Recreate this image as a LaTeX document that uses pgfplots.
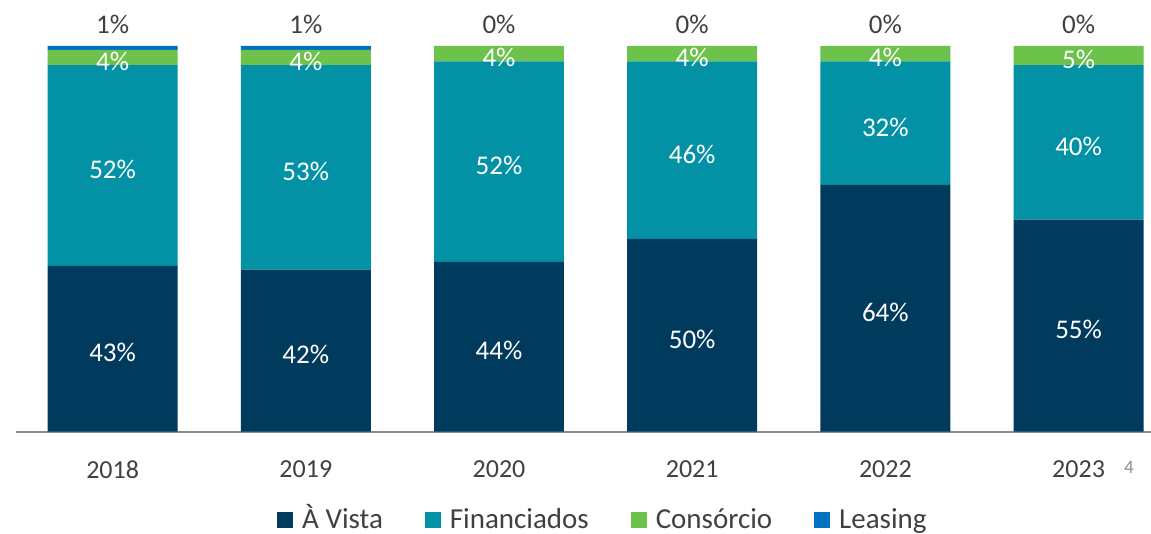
\documentclass[border=0pt]{standalone}
\usepackage{pgfplots}
\pgfplotsset{compat=1.18}
\usepackage{pgfplotstable}
\usepackage{fontspec}
\setmainfont{Carlito}

\definecolor{avista}{HTML}{003A5D}
\definecolor{fin}{HTML}{0391A6}
\definecolor{cons}{HTML}{6CC24A}
\definecolor{leas}{HTML}{0070C0}
\definecolor{axisgray}{HTML}{8C8C8C}
\definecolor{txtgray}{HTML}{404040}

% share of each payment type, per year (%)
\pgfplotstableread{
x avista fin cons leas
0 43 52 4 1
1 42 53 4 1
2 44 52 4 0
3 50 46 4 0
4 64 32 4 0
5 55 40 5 0
}\shares

\pgfplotsset{
  base/.style={x=96.65pt, y=1.93pt, xmin=-0.5, xmax=5.375, ymin=0, ymax=100, clip=false},
  lbl/.style={draw=none, mark=none, nodes near coords={\pgfplotspointmeta\%},
    point meta=explicit symbolic,
    every node near coord/.append style={anchor=center, text=#1}},
}

\begin{document}
\begin{tikzpicture}[font=\fontsize{13.5}{16}\selectfont]
\begin{axis}[base, ybar stacked, bar width=65pt,
  axis x line=bottom, axis y line=none,
  axis line style={-, draw=axisgray, line width=1pt},
  xtick={0,1,2,3,4,5},
  xticklabels={2018,2019,2020,2021,2022,2023},
  major tick length=0pt,
  xticklabel style={text=txtgray, yshift=-11pt, font=\fontsize{13}{15}\selectfont},
  legend columns=4,
  legend style={draw=none, fill=none, inner sep=0pt,
    at={(axis description cs:0.2298,-0.2235)}, anchor=west,
    text=txtgray, font=\fontsize{14.5}{17}\selectfont,
    nodes={inner sep=0pt, anchor=base},
    /tikz/every odd column/.append style={column sep=4.5pt},
    /tikz/every even column/.append style={column sep=21pt}},
  legend image code/.code={\fill[#1,draw=none] (0pt,0.5pt) rectangle (8pt,8.5pt);},
]
\addplot[fill=avista, draw=none] table[x=x, y=avista]{\shares};
\addplot[fill=fin, draw=none] table[x=x, y=fin]{\shares};
\addplot[fill=cons, draw=none] table[x=x, y=cons]{\shares};
\addplot[fill=leas, draw=none] table[x=x, y=leas]{\shares};
\legend{À Vista, Financiados, Consórcio, Leasing}
\node[text=gray!90, font=\fontsize{9.5}{11}\selectfont] at (axis cs:5.261,-9.3) {4};
\coordinate (bl) at (axis cs:-0.583,-26.42);
\coordinate (tr) at (axis cs:5.375,111.9);
\end{axis}

\begin{axis}[base, hide axis]
\addplot[lbl=white, yshift=-2pt] table[x=x, y expr=\thisrow{avista}/2, meta=avista]{\shares};
\addplot[lbl=white, yshift=-2pt] table[x=x, y expr=\thisrow{avista}+\thisrow{fin}/2, meta=fin]{\shares};
\addplot[lbl=white, yshift=-2pt] table[x=x, y expr=\thisrow{avista}+\thisrow{fin}+\thisrow{cons}/2, meta=cons]{\shares};
\addplot[lbl=txtgray] table[x=x, y expr=105.5, meta=leas]{\shares};
\end{axis}
\pgfresetboundingbox
\useasboundingbox (bl) rectangle (tr);
\end{tikzpicture}
\end{document}
